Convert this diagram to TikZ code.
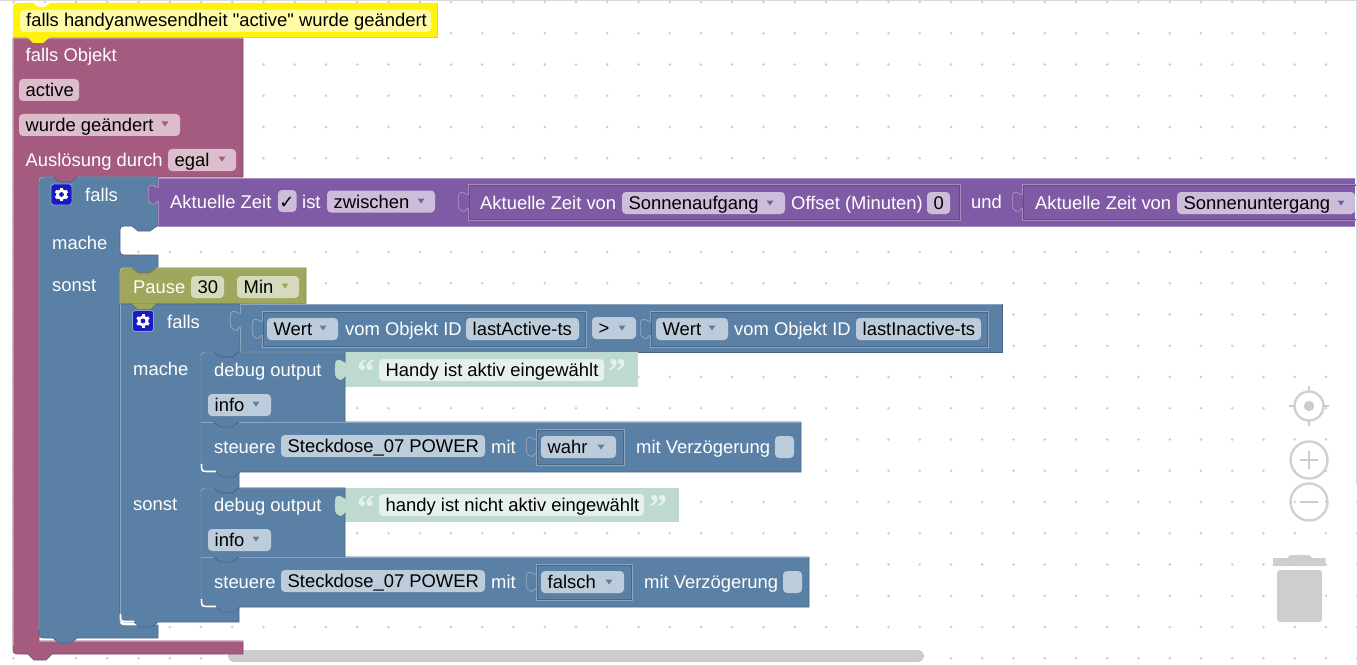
\documentclass[tikz,border=0pt]{standalone}
\usepackage{fontspec}
\setmainfont{Liberation Sans}
\newfontfamily\plainsf{Liberation Sans}
\newfontfamily\dvfont{DejaVu Sans}
\newfontfamily\qfont{Liberation Serif}
\definecolor{pk}{HTML}{A55B80}\definecolor{pkf}{HTML}{DBBDCC}\definecolor{pkd}{HTML}{84496A}\definecolor{pkl}{HTML}{C08CA6}
\definecolor{bl}{HTML}{5B80A5}\definecolor{blf}{HTML}{BDCCDB}\definecolor{bld}{HTML}{496684}\definecolor{bll}{HTML}{8CA6C0}
\definecolor{pu}{HTML}{805BA5}\definecolor{puf}{HTML}{CCBDDB}\definecolor{pud}{HTML}{664984}\definecolor{pul}{HTML}{A68CC0}
\definecolor{ol}{HTML}{A0A65C}\definecolor{olf}{HTML}{D6DABD}\definecolor{old}{HTML}{84844A}\definecolor{oll}{HTML}{C0C48C}
\definecolor{gr}{HTML}{BEDACF}\definecolor{grf}{HTML}{E6F1EC}
\definecolor{ui}{HTML}{CCCCCC}
\tikzset{
  wt/.style={anchor=base west,inner sep=0pt,text=white,font=\plainsf\fontsize{18.4}{22}\selectfont},
  bk/.style={anchor=base west,inner sep=0pt,text=black,font=\plainsf\fontsize{18.4}{22}\selectfont},
  uiline/.style={draw=ui,line width=2.4pt,fill=none,opacity=.9},
  hole/.style={line width=.65pt}
}
% label: name,x,yc,text
\newcommand\lbl[4]{\node[wt] (#1) at (#2,#3+6.5) {#4};}
% field: name,x0,x1,yc,text,fill
\newcommand\fld[6]{\fill[#6,rounded corners=4pt] (#2,#4-11) rectangle (#3,#4+11);
  \node[bk] (#1) at (#2+6.5,#4+6.5) {#5};}
% dropdown triangle: x,yc,colour
\newcommand\tri[3]{\fill[#3] (#1-3.5,#2-2.5) -- (#1+3.5,#2-2.5) -- (#1,#2+2.5) -- cycle;}
% puzzle tab: x,ytop,fill,line
\newcommand\tabv[4]{\filldraw[fill=#3,draw=#4,line width=.8pt,rounded corners=1.2pt]
  (#1,#2+3) -- (#1-6,#2) -- (#1-9,#2+1) -- (#1-10,#2+9) -- (#1-9,#2+17) -- (#1-4,#2+20) -- (#1,#2+16);
  \fill[#3] (#1-.6,#2+3) rectangle (#1+.8,#2+16);}
% nested block outline: x0,x1,y0,y1,light,dark
\newcommand\nest[6]{\draw[#5,hole] (#1,#3) rectangle (#2,#4);\draw[#6,hole] (#1+1,#3+1) rectangle (#2-1,#4-1);}
% gear: x,y
\newcommand\gear[2]{\filldraw[fill=blue!75!black!90!white,draw=bll,line width=.8pt,rounded corners=3pt] (#1-10.5,#2-10.5) rectangle (#1+10.5,#2+10.5);
  \foreach \a in {0,60,...,300}{\draw[white,line width=3pt] (#1,#2) -- ++(\a+30:6.8);}
  \fill[white] (#1,#2) circle (5.5);\fill[blue!75!black!90!white] (#1,#2) circle (2.4);}
\newcommand\qL[3]{\node[anchor=base west,inner sep=0pt,text=grf,font=\qfont\bfseries\fontsize{36}{36}\selectfont] (#1) at (#2,#3+31) {“};}
\newcommand\qR[3]{\node[anchor=base west,inner sep=0pt,text=grf,font=\qfont\bfseries\fontsize{36}{36}\selectfont] (#1) at (#2,#3+31) {”};}
\begin{document}
\begin{tikzpicture}[x=1pt,y=-1pt]
\useasboundingbox (0,0) rectangle (1357,666);
\fill[white] (0,0) rectangle (1357,666);
% grid
\foreach \i in {0,...,43}{\foreach \j in {0,...,21}{\fill[ui] (13.5+31.25*\i,2+31.25*\j) circle (1.4);}}
% window edges
\fill[gray!30] (0,0) rectangle (1357,1);
\fill[gray!30] (0,664.5) rectangle (1357,666);
\fill[gray!30] (1355.8,0) rectangle (1357,485);
% workspace controls
\draw[uiline] (1309,406) circle (14.5);
\fill[ui] (1309,406) circle (5.2);
\draw[ui,line width=2pt] (1309,386) -- (1309,392) (1309,420) -- (1309,426) (1289,406) -- (1295,406) (1323,406) -- (1329,406);
\draw[uiline] (1309,460) circle (18.5);
\draw[ui,line width=2.2pt] (1300,460) -- (1318,460) (1309,451) -- (1309,469);
\draw[uiline] (1309,502) circle (18.5);
\draw[ui,line width=2.2pt] (1300,502) -- (1318,502);
\fill[ui,opacity=.95] (1273,558) -- (1287,558) -- (1290,555) -- (1309,555) -- (1312,558) -- (1325.5,558) -- (1325.5,566) -- (1273,566) -- cycle;
\fill[ui,opacity=.95,rounded corners=3pt] (1277,570) -- (1322,570) -- (1322,622) -- (1277,622) -- cycle;
% scrollbar
\fill[ui,rounded corners=5.5pt] (228,650) rectangle (924,662);
% pink event block
\filldraw[fill=pk,draw=pkd,line width=.7pt] (13,38) -- (243,38) -- (243,177) -- (77,177) -- (71,182) -- (59,182) -- (53,177) -- (39,177) -- (39,641) -- (243,641) -- (243,654) -- (52,654) -- (46,660) -- (34,660) -- (28,654) -- (21,654) .. controls (13,654) .. (13,646) -- cycle;
\draw[pkl,line width=.7pt] (13,646) -- (13,38) -- (243,38) (39,641.5) -- (243,641.5);
% yellow comment header
\fill[yellow!95!white] (13,11) .. controls (13,3) .. (21,3) -- (33,3) -- (38,7) -- (45,7) -- (50,3) -- (437,3) -- (437,37) -- (50,37) -- (43,43) -- (33,43) -- (27,37) -- (13,37) -- cycle;
\fill[yellow!35!white,rounded corners=4pt] (20,10) rectangle (431,32);
\draw[yellow!70!gray,line width=.6pt] (437.3,3) -- (437.3,37) -- (243,37);
\node[bk] (hdr) at (26,26.5) {falls handyanwesendheit "active" wurde geändert};
\lbl{fo}{25.5}{55}{falls Objekt}
\fld{act}{19}{79}{90}{active}{pkf}
\fld{wg}{19}{180}{125}{wurde geändert}{pkf}\tri{165}{124}{pk}
\lbl{ad}{25.5}{160}{Auslösung durch}
\fld{eg}{168}{236}{160}{egal}{pkf}\tri{222}{159}{pk}
% outer falls
\filldraw[fill=bl,draw=bld,line width=.7pt] (49,177) -- (53,177) -- (59,182) -- (71,182) -- (77,177) -- (158,177) -- (158,226) -- (157,226) -- (150,231) -- (138,231) -- (132,226) -- (128,226) .. controls (120,226) .. (120,234) -- (120,247) .. controls (120,255) .. (128,255) -- (158,255) -- (158,268) -- (157,268) -- (150,273) -- (138,273) -- (132,268) -- (128,268) -- (120,276) -- (120,617) .. controls (120,625) .. (128,625) -- (158,625) -- (158,638) -- (77,638) -- (71,643) -- (59,643) -- (53,638) -- (47,638) .. controls (39,638) .. (39,630) -- (39,185) .. controls (39,177) .. (49,177) -- cycle;
\draw[bll,line width=.8pt] (39,630) -- (39,185) .. controls (39,177) .. (49,177) -- (53,177) (77,177) -- (158,177);
\draw[white,line width=1.6pt] (120.5,617) .. controls (120.5,624.5) .. (128,624.5) -- (140,624.5);
\gear{61.5}{194.5}
\lbl{f1}{85}{195}{falls}
\lbl{m1}{52}{243}{mache}
\lbl{s1}{52}{285}{sonst}
% purple condition
\fill[pu] (158,178) rectangle (1355,226);
\draw[pul,line width=.9pt] (158,226.3) -- (1355,226.3);
\draw[pul,line width=.8pt] (158.5,226) -- (158.5,178) -- (1355,178);
\tabv{158}{185}{pu}{pul}
\lbl{az}{170}{202}{Aktuelle Zeit}
\fill[puf,rounded corners=4pt] (278,190) rectangle (296.5,212);
\node[anchor=base,inner sep=0pt,text=black,font=\dvfont\fontsize{18}{22}\selectfont] (chk) at (287,208) {✓};
\lbl{ist}{302}{202}{ist}
\fld{zw}{327}{435}{201.5}{zwischen}{puf}\tri{421}{201}{pu}
\nest{468}{960}{184}{220.5}{pul}{pud}
\tabv{468}{192}{pu}{pul}
\lbl{az2}{480}{203}{Aktuelle Zeit von}
\fld{sa}{622}{785}{203}{Sonnenaufgang}{puf}\tri{770}{203}{pu}
\lbl{of}{791}{203}{Offset (Minuten)}
\fld{nl}{927}{950}{203}{0}{puf}
\lbl{und}{971}{202}{und}
\nest{1022}{1360}{184}{220.5}{pul}{pud}
\tabv{1022}{192}{pu}{pul}
\fill[white] (1355.5,176) rectangle (1357,228);
\fill[gray!30] (1355.8,176) rectangle (1357,228);
\lbl{az3}{1035}{203}{Aktuelle Zeit von}
\fld{su}{1177}{1355}{203}{Sonnenuntergang}{puf}\tri{1341}{203}{pu}
% pause
\filldraw[fill=ol,draw=old,line width=.7pt] (120,276) .. controls (120,268) .. (128,268) -- (132,268) -- (138,273) -- (150,273) -- (156,268) -- (306,268) -- (306,304) -- (120,304) -- cycle;
\draw[oll,line width=.8pt] (120,304) -- (120,276) .. controls (120,268) .. (128,268) -- (132,268) (156,268) -- (306,268);
\lbl{pa}{133}{287}{Pause}
\fld{n30}{191}{224}{287}{30}{olf}
\fld{mi}{237}{299}{287}{Min}{olf}\tri{285}{286}{ol}
% inner falls
\filldraw[fill=bl,draw=bld,line width=.7pt] (120,304) -- (132,304) -- (138,309) -- (150,309) -- (156,304) -- (240,304) -- (240,352) -- (239,352) -- (232,357) -- (220,357) -- (214,352) -- (209,352) .. controls (201,352) .. (201,360) -- (201,464) .. controls (201,472) .. (209,472) -- (239,472) -- (239,488) -- (232,493) -- (220,493) -- (214,488) -- (209,488) .. controls (201,488) .. (201,496) -- (201,599) .. controls (201,607) .. (209,607) -- (239,607) -- (239,622) -- (158,622) -- (152,627) -- (140,627) -- (134,622) -- (128,622) .. controls (120,622) .. (120,614) -- cycle;
\fill[ol] (132,304) -- (138,309) -- (150,309) -- (156,304) -- cycle;
\draw[bll,line width=.8pt] (120,614) -- (120,304);
\draw[white,line width=1.6pt] (120.5,614) .. controls (120.5,621.5) .. (128,621.5) -- (134,621.5);
\gear{143}{321}
\lbl{f2}{167}{322}{falls}
\lbl{m2}{133}{369}{mache}
\lbl{s2}{133}{504}{sonst}
% comparison block
\filldraw[fill=bl,draw=bld,line width=.7pt] (240,304) rectangle (1002,352);
\draw[bll,line width=.8pt] (240,352) -- (240,304) -- (1002,304);
\tabv{240}{311}{bl}{bll}
\nest{262}{586}{311}{347}{bll}{bld}
\tabv{262}{319}{bl}{bll}
\fld{w1}{267}{338}{329}{Wert}{blf}\tri{323}{328}{bl}
\lbl{vo1}{345}{329}{vom Objekt ID}
\fld{la}{466}{579}{329}{lastActive-ts}{blf}
\fld{gt}{592}{636}{328}{>}{blf}\tri{622}{328}{bl}
\nest{650}{988}{311}{347}{bll}{bld}
\tabv{650}{319}{bl}{bll}
\fld{w2}{656}{728}{329}{Wert}{blf}\tri{712}{328}{bl}
\lbl{vo2}{734}{329}{vom Objekt ID}
\fld{li}{856}{981}{329}{lastInactive-ts}{blf}
% first debug + steuere
\fill[gr] (345,352) rectangle (638,387);
\qL{q1}{357}{352}\fld{t1}{379}{604}{370}{Handy ist aktiv eingewählt}{grf}\qR{q2}{608}{352}
\filldraw[fill=bl,draw=bld,line width=.7pt] (201,360) .. controls (201,352) .. (209,352) -- (214,352) -- (220,357) -- (232,357) -- (239,352) -- (345,352) -- (345,422) -- (801,422) -- (801,472) -- (240,472) -- (234,477) -- (222,477) -- (216,472) -- (209,472) .. controls (201,472) .. (201,464) -- cycle;
\draw[bll,line width=.8pt] (201,464) -- (201,360) .. controls (201,352) .. (209,352) -- (214,352) (239,352) -- (345,352);
\draw[bll,line width=.8pt] (201,422) -- (214,422) (239,422) -- (801,422);
\draw[bld,line width=.8pt] (214,422) -- (220,427) -- (232,427) -- (239,422);
\draw[white,line width=1.6pt] (201.5,464) .. controls (201.5,471.5) .. (209,471.5) -- (216,471.5);
\tabv{345}{360}{gr}{gr}
\lbl{d1}{214}{370}{debug output}
\fld{i1}{208}{271}{405}{info}{blf}\tri{256}{404}{bl}
\lbl{st1}{214}{447}{steuere}
\fld{sk1}{281}{485}{446}{Steckdose\_07 POWER}{blf}
\lbl{mt1}{491}{447}{mit}
\tabv{536}{437}{bl}{bll}
\nest{536}{624}{429}{465}{bll}{bld}
\fld{wa}{541}{616}{447}{wahr}{blf}\tri{601}{447}{bl}
\lbl{mv1}{636}{447}{mit Verzögerung}
\fill[blf,rounded corners=4pt] (775,436) rectangle (794,458);
% second debug + steuere
\fill[gr] (345,488) rectangle (679,522);
\qL{q3}{357}{488}\fld{t2}{379}{644}{505}{handy ist nicht aktiv eingewählt}{grf}\qR{q4}{649}{488}
\filldraw[fill=bl,draw=bld,line width=.7pt] (201,496) .. controls (201,488) .. (209,488) -- (214,488) -- (220,493) -- (232,493) -- (239,488) -- (345,488) -- (345,557) -- (809,557) -- (809,607) -- (240,607) -- (234,612) -- (222,612) -- (216,607) -- (209,607) .. controls (201,607) .. (201,599) -- cycle;
\draw[bll,line width=.8pt] (201,599) -- (201,496) .. controls (201,488) .. (209,488) -- (214,488) (239,488) -- (345,488);
\draw[bll,line width=.8pt] (201,557) -- (214,557) (239,557) -- (809,557);
\draw[bld,line width=.8pt] (214,557) -- (220,562) -- (232,562) -- (239,557);
\draw[white,line width=1.6pt] (201.5,599) .. controls (201.5,606.5) .. (209,606.5) -- (216,606.5);
\tabv{345}{496}{gr}{gr}
\lbl{d2}{214}{505}{debug output}
\fld{i2}{208}{271}{540}{info}{blf}\tri{256}{539}{bl}
\lbl{st2}{214}{582}{steuere}
\fld{sk2}{281}{485}{581}{Steckdose\_07 POWER}{blf}
\lbl{mt2}{491}{582}{mit}
\tabv{536}{572}{bl}{bll}
\nest{536}{632}{564}{600}{bll}{bld}
\fld{fa}{541}{624}{582}{falsch}{blf}\tri{609}{582}{bl}
\lbl{mv2}{644}{582}{mit Verzögerung}
\fill[blf,rounded corners=4pt] (783,571) rectangle (802,593);
\end{tikzpicture}
\end{document}
